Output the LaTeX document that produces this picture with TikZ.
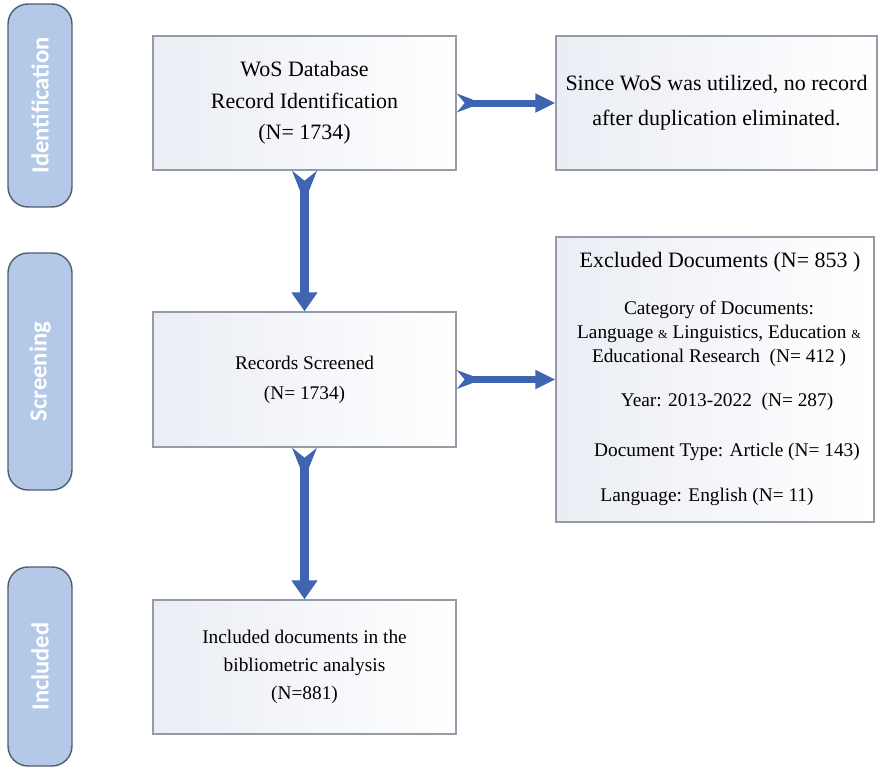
\documentclass[tikz,border=0pt]{standalone}
\usepackage{fontspec}
\setmainfont{Liberation Serif}
\newfontfamily\stagefont{Carlito}
\usetikzlibrary{arrows.meta}
\definecolor{arrowblue}{RGB}{62,100,178}
\definecolor{stagefill}{RGB}{180,200,232}
\definecolor{stageline}{RGB}{80,92,112}
\definecolor{boxline}{RGB}{150,156,166}
\definecolor{boxshade}{RGB}{234,237,244}
\newcommand{\smallamp}{{\fontsize{7}{8}\selectfont\&}}

\begin{document}
\begin{tikzpicture}[x=0.02cm, y=-0.02cm]
	\useasboundingbox (0,0) rectangle (883,769);
	% Define styles
	\tikzstyle{stage}=[rectangle, rounded corners=0.4cm, line width=0.8pt, draw=stageline, fill=stagefill, minimum height=1.28cm, rotate=90, text=white, font=\stagefont\bfseries\fontsize{14}{16}\selectfont]
	\tikzstyle{box}=[rectangle, line width=0.8pt, draw=boxline, left color=boxshade, right color=white, minimum width=6.06cm, minimum height=2.68cm, align=center]
	\tikzstyle{vflow}=[draw=arrowblue, line width=0.18cm, shorten <=0.38cm, -{Triangle[length=0.38cm, width=0.5cm, fill=arrowblue]}]
	\tikzstyle{hflow}=[draw=arrowblue, line width=0.14cm, shorten <=0.3cm, -{Triangle[length=0.4cm, width=0.36cm, fill=arrowblue]}]

	% Stages
	\node[stage, minimum width=4.06cm] (ident) at (40,105.5) {Identification};
	\node[stage, minimum width=4.74cm] (screen) at (40,371.5) {Screening};
	\node[stage, minimum width=3.98cm] (incl) at (40,666.5) {Included};

	% Boxes
	\node[box, font=\fontsize{12.5}{18}\selectfont] (wos) at (304.5,103) {WoS Database\\Record Identification\\(N= 1734)};
	\node[box, minimum width=6.42cm, font=\fontsize{12.5}{20}\selectfont] (dup) at (716.5,103) {Since WoS was utilized, no record\\after duplication eliminated.};
	\node[box, minimum height=2.7cm, font=\fontsize{11}{17}\selectfont] (screened) at (304.5,379.5) {Records Screened\\(N= 1734)};
	\node[box, minimum width=6.36cm, minimum height=5.7cm] (excl) at (715,379.5) {};
	\node[box, font=\fontsize{11}{16}\selectfont] (included) at (304.5,667) {Included documents in the\\bibliometric analysis\\(N=881)};

	% Excluded documents
		\node[font=\fontsize{12.5}{15}\selectfont] (exclA) at (720,262) {Excluded Documents (N= 853 )};
		\node[font=\fontsize{11}{13.6}\selectfont, align=center] (exclB) at (719,334) {Category of Documents:\\Language \smallamp{} Linguistics, Education \smallamp\\Educational Research\ \ (N= 412 )};
		\node[font=\fontsize{11}{13}\selectfont] (exclC) at (727,402) {Year: 2013-2022\ \ (N= 287)};
		\node[font=\fontsize{11}{13}\selectfont] (exclD) at (727,452) {Document Type: Article (N= 143)};
		\node[font=\fontsize{11}{13}\selectfont] (exclE) at (707,497) {Language: English (N= 11)};

	% Arrows
	\draw[vflow] (wos) -- (screened);
	\draw[vflow] (screened) -- (included);
	\draw[hflow] (wos) -- (dup);
	\draw[hflow] (screened) -- (excl);

	% Notched tails
	\foreach \n in {wos, screened}
		\fill[arrowblue] (\n.south) ++(-12.5,0) -- ++(12.5,10) -- ++(12.5,-10) -- ++(-8,20) -- ++(-9,0) -- cycle;
	\foreach \n in {wos, screened}
		\fill[arrowblue] (\n.east) ++(0,-9.5) -- ++(8,9.5) -- ++(-8,9.5) -- ++(16,-6) -- ++(0,-7) -- cycle;
\end{tikzpicture}
\end{document}
